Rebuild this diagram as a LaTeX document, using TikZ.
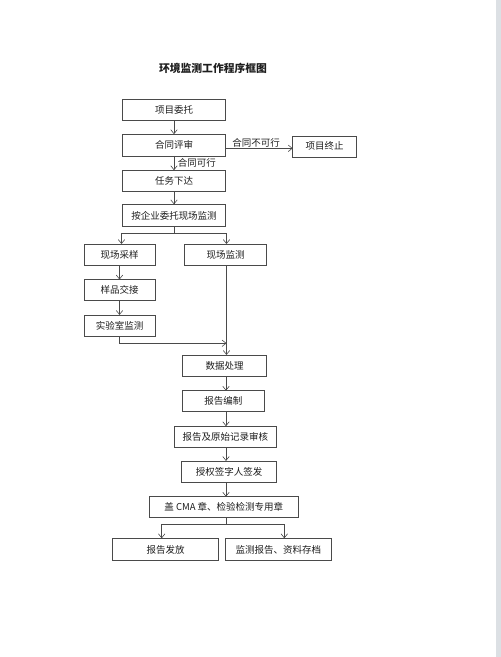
\documentclass[tikz,border=0pt]{standalone}
\usepackage{fontspec}
\usepackage{tikz}
\usetikzlibrary{arrows.meta, positioning, calc}
\newfontfamily\cjk{Noto Sans CJK SC}
\definecolor{flow-line}{HTML}{4A4A4A}
\definecolor{flow-text}{HTML}{1E1E1E}
\definecolor{page-edge}{HTML}{DCE0E4}

\begin{document}
\begin{tikzpicture}[x=1pt, y=-1pt,
		box/.style={
			draw=flow-line, fill=white,
			line width=0.6pt,
			minimum height=21pt,
			inner sep=0pt, outer sep=0pt,
			text=flow-text,
			font=\cjk\fontsize{9.5}{11}\selectfont
		},
		note/.style={
			inner sep=1pt, text=flow-text,
			font=\cjk\fontsize{9.5}{11}\selectfont
		},
		arr/.style={
			draw=flow-line, line width=0.6pt,
			-{Straight Barb[length=4pt,width=6.5pt]}
		},
		wire/.style={
			draw=flow-line, line width=0.6pt
		}
		]
		
		\useasboundingbox (0,0) rectangle (501,657);
		\fill[page-edge] (496,0) rectangle (501,657);
		
		% 标题
		\node[note, font=\cjk\bfseries\fontsize{10.8}{13}\selectfont] (title) at (213,68) {环境监测工作程序框图};
		
		% 委托与评审
		\node[box, minimum width=102.6pt] (weituo) at (174,109.7) {项目委托};
		\node[box, minimum width=102.6pt, minimum height=21.7pt] (pingshen) at (174,145) {合同评审};
		\node[box, minimum width=64pt] (zhongzhi) at (324.7,146.3) {项目终止};
		\node[box, minimum width=102.6pt] (xiada) at (174,180.7) {任务下达};
		\node[box, minimum width=102.6pt, minimum height=22.4pt] (anqiye) at (174,215.5) {按企业委托现场监测};
		
		% 现场两路
		\node[box, minimum width=71pt] (caiyang) at (119.5,254.5) {现场采样};
		\node[box, minimum width=81.7pt] (xcjiance) at (225.5,254.5) {现场监测};
		\node[box, minimum width=71pt] (jiaojie) at (119.5,290) {样品交接};
		\node[box, minimum width=71pt, minimum height=21.7pt] (shiyanshi) at (119.5,325.8) {实验室监测};
		
		% 数据与报告
		\node[box, minimum width=84.4pt, minimum height=21.7pt] (shuju) at (224.5,365.8) {数据处理};
		\node[box, minimum width=82pt] (bianzhi) at (223.3,401.2) {报告编制};
		\node[box, minimum width=102.7pt] (shenhe) at (225.3,436.7) {报告及原始记录审核};
		\node[box, minimum width=95pt, minimum height=21.7pt] (qianfa) at (229.2,471.8) {授权签字人签发};
		\node[box, minimum width=149pt] (gaizhang) at (223.8,507.2) {盖 CMA 章、检验检测专用章};
		\node[box, minimum width=105.6pt, minimum height=22.4pt] (fafang) at (165.5,549.5) {报告发放};
		\node[box, minimum width=106.7pt, minimum height=22.4pt] (cundang) at (278.3,549.5) {监测报告、资料存档};
		
		% 连线
		\draw[arr] (weituo.south) -- (pingshen.north);
		\draw[arr] ([yshift=-3.3pt]pingshen.east) -- ([yshift=-3.3pt]pingshen.east -| zhongzhi.west)
			node[note, midway, above=0pt, xshift=-3pt] {合同不可行};
		\draw[arr] (pingshen.south) -- (xiada.north)
			node[note, midway, right=2.5pt] {合同可行};
		\draw[arr] (xiada.south) -- (anqiye.north);
		
		\coordinate (fen1) at ($(anqiye.south)+(0,7)$);
		\draw[wire] (anqiye.south) -- (fen1);
		\draw[arr] (fen1) -| ([xshift=2pt]caiyang.north);
		\draw[arr] (fen1) -| ([xshift=1pt]xcjiance.north);
		\draw[arr] (caiyang.south) -- (jiaojie.north);
		\draw[arr] (jiaojie.south) -- (shiyanshi.north);
		
		\coordinate (hui) at ($([xshift=1pt]xcjiance.south |- shiyanshi.south)+(0,6.6)$);
		\draw[arr] (shiyanshi.south) |- (hui);
		\draw[arr] ([xshift=1pt]xcjiance.south) -- ([xshift=1pt]xcjiance.south |- shuju.north);
		
		\draw[arr] ([xshift=1.5pt]shuju.south) -- ([xshift=1.5pt]shuju.south |- bianzhi.north);
		\draw[arr] ([xshift=2.7pt]bianzhi.south) -- ([xshift=2.7pt]bianzhi.south |- shenhe.north);
		\draw[arr] ([xshift=0.7pt]shenhe.south) -- ([xshift=0.7pt]shenhe.south |- qianfa.north);
		\draw[arr] ([xshift=-3.2pt]qianfa.south) -- ([xshift=-3.2pt]qianfa.south |- gaizhang.north);
		
		\coordinate (fen2) at ($([xshift=2.2pt]gaizhang.south)+(0,6.8)$);
		\draw[wire] ([xshift=2.2pt]gaizhang.south) -- (fen2);
		\draw[arr] (fen2) -| ([xshift=-3.8pt]fafang.north);
		\draw[arr] (fen2) -| ([xshift=6pt]cundang.north);
		
	\end{tikzpicture}
\end{document}
